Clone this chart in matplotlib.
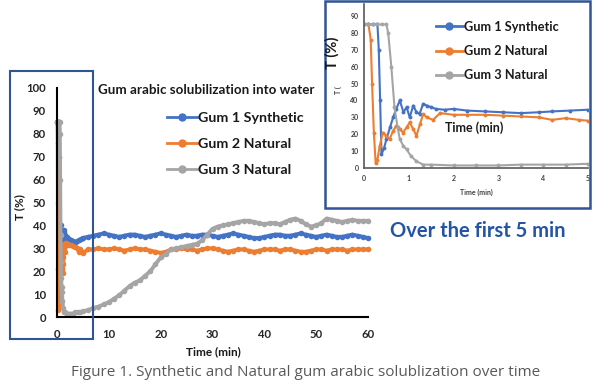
import matplotlib.pyplot as plt
from matplotlib.lines import Line2D
from matplotlib.patches import Rectangle

# ---- data ----
series_names = ["Gum 1 Synthetic", "Gum 2 Natural", "Gum 3 Natural"]
series_colors = ["#4472C4", "#ED7D31", "#A5A5A5"]

time_gum1 = [0, 0.1, 0.2, 0.3, 0.33, 0.36, 0.39, 0.45, 0.5, 0.58, 0.65, 0.72, 0.8, 0.88,
             0.95, 1.02, 1.1, 1.17, 1.24, 1.32, 1.4, 1.5, 1.6, 1.8, 2.0, 2.3, 2.7, 3.1,
             3.5, 3.9, 4.2, 4.6, 5.0] + list(range(6, 61))
T_gum1 = [85, 85, 85, 85, 70, 40, 8, 12, 17, 24, 30, 35, 40, 33, 36, 30, 37, 33, 32, 38,
          37, 36, 35, 34.5, 35, 34, 33.5, 33, 32.5, 33, 33.5, 34, 34.5,
          35, 35.5, 36, 36.5, 36, 35.5, 35, 35.5, 36, 36, 35.5, 35, 35.5, 36, 36.5,
          36, 35.5, 35, 35.5, 36, 35.5, 35.5, 36, 36, 35.5, 35, 35.5, 36, 36.5, 36,
          35.5, 35, 34.5, 34.5, 35, 35.5, 36, 36, 35.5, 35.5, 36, 36.5, 36, 35.5,
          35, 35.5, 36, 35.5, 35, 35, 35.5, 36, 35.5, 35, 34.5]

time_gum2 = [0, 0.1, 0.15, 0.18, 0.22, 0.26, 0.3, 0.35, 0.42, 0.5, 0.57, 0.65, 0.72,
             0.8, 0.87, 0.95, 1.02, 1.1, 1.17, 1.25, 1.32, 1.4, 1.54, 1.7, 2.0, 2.3,
             2.7, 3.1, 3.5, 3.9, 4.2, 4.5, 4.8, 5.0] + list(range(6, 61))
T_gum2 = [85, 85, 76, 50, 21, 3, 5, 13, 21, 19, 17, 22, 25, 23, 21, 24, 27, 23, 19, 26,
          32, 30, 28.5, 32.5, 31.5, 31.5, 31.5, 31, 30.5, 30, 28.5, 29.5, 28.5, 28,
          29.5, 29.5, 30, 29.5, 29.5, 30, 29.5, 29, 29.5, 30, 29.5, 29.5, 29, 28.5,
          28, 28.5, 29.5, 29.5, 30, 29.5, 29.5, 29, 29.5, 30, 30, 29.5, 29, 28.5,
          29, 29.5, 29.5, 29, 28.5, 29, 29.5, 29.5, 29.5, 29, 29.5, 29.5, 29, 28.5,
          28.5, 29, 29.5, 29.5, 29, 29.5, 29.5, 29.5, 29, 29.5, 29.5, 29.5, 29.5]

time_gum3 = [0, 0.1, 0.2, 0.3, 0.4, 0.5, 0.54, 0.61, 0.68, 0.75, 0.8, 0.88, 0.95, 1.05,
             1.17, 1.32, 1.5, 2.0, 2.5, 3.0, 3.5, 4.0, 4.5, 5.0] + list(range(6, 61))
T_gum3 = [85, 85, 85, 85, 85, 85, 80, 60, 36, 24, 17, 13, 11, 7, 4, 2, 2, 1.5, 1.5,
          1.5, 2, 2, 2, 2.5,
          3, 4, 4.5, 5.5, 6.5, 8, 9.5, 11.5, 13.5, 15, 16, 18, 20, 23, 26, 27.5, 29.5,
          30, 30.5, 31, 31.5, 32, 33.5, 36, 38.5, 39.5, 40, 40.5, 41, 41.5, 42, 42,
          41.5, 41, 40.5, 41, 41, 40.5, 41.5, 42.5, 43, 42, 40.5, 39.5, 40, 41, 43,
          42.5, 42, 41.5, 42, 42.5, 42, 42, 42]

main_xticks = [0, 10, 20, 30, 40, 50, 60]
main_yticks = [0, 10, 20, 30, 40, 50, 60, 70, 80, 90, 100]
inset_xticks = [0, 1, 2, 3, 4, 5]
inset_yticks = [0, 10, 20, 30, 40, 50, 60, 70, 80, 90]

W, H = 593, 384
frame_blue = "#2F5597"
FONT = ["Lato", "DejaVu Sans"]
INK = "#1a1a1a"


def fx(x):
    return x / W


def fy(y):
    return 1 - y / H


fig = plt.figure(figsize=(W / 100, H / 100), dpi=100)
fig.patch.set_facecolor("white")

times = [time_gum1, time_gum2, time_gum3]
values = [T_gum1, T_gum2, T_gum3]

# ---- main chart ----
ax = fig.add_axes([fx(57), fy(317), (368 - 57) / W, (317 - 88) / H])
for t, v, c in zip(times, values, series_colors):
    ax.plot(t, v, color=c, lw=2.8, marker="o", ms=4, mew=0, clip_on=False)
ax.set_xlim(0, 60)
ax.set_ylim(0, 100)
ax.set_xticks(main_xticks)
ax.set_yticks(main_yticks)
for s in ["top", "right"]:
    ax.spines[s].set_visible(False)
for s in ["left", "bottom"]:
    ax.spines[s].set_color("black")
    ax.spines[s].set_linewidth(1.5)
ax.tick_params(axis="y", length=0, pad=8, labelsize=8.2, labelcolor="#262626")
ax.tick_params(axis="x", length=0, pad=9, labelsize=8.2, labelcolor="#262626")
for lab in ax.get_xticklabels() + ax.get_yticklabels():
    lab.set_fontweight("bold")
    lab.set_family(FONT)
ax.set_facecolor("none")

fig.text(fx(98), fy(90), "Gum arabic solubilization into water", ha="left", va="center",
         fontsize=9.6, fontweight="bold", family=FONT, color=INK)
fig.text(fx(20), fy(207), "T (%)", rotation=90, ha="center", va="center",
         fontsize=8.5, fontweight="bold", family=FONT, color=INK)
fig.text(fx(213), fy(352), "Time (min)", ha="center", va="center",
         fontsize=8.5, fontweight="bold", family=FONT, color=INK)

handles = [Line2D([0], [0], color=c, lw=2, marker="o", ms=5) for c in series_colors]
leg = ax.legend(handles, series_names, loc="center left",
                bbox_to_anchor=(fx(167), fy(144)), bbox_transform=fig.transFigure,
                frameon=False, borderpad=0, borderaxespad=0,
                handlelength=2.1, handletextpad=0.1, labelspacing=0.95,
                prop={"family": FONT, "weight": "bold", "size": 10.3})
for txt in leg.get_texts():
    txt.set_color(INK)

# blue box around the first minutes
fig.add_artist(Rectangle((fx(10), fy(339)), (93 - 10) / W, (339 - 71) / H,
                         transform=fig.transFigure, fill=False, edgecolor=frame_blue,
                         lw=1.5, zorder=3))

# ---- inset: first 5 min ----
fig.add_artist(Rectangle((fx(325), fy(208)), (590 - 325) / W, 207 / H,
                         transform=fig.transFigure, facecolor="white",
                         edgecolor=frame_blue, lw=1.8, zorder=1))

ax2 = fig.add_axes([fx(364), fy(168), (588 - 364) / W, 97 * 1.689 / H], zorder=2)
for t, v, c in zip(times, values, series_colors):
    ax2.plot(t, v, color=c, lw=1.5, marker="o", ms=2.8, mew=0)
ax2.set_xlim(0, 5)
ax2.set_ylim(0, 97)
ax2.set_xticks(inset_xticks)
ax2.set_yticks(inset_yticks)
ax2.set_facecolor("none")
for s in ["top", "right"]:
    ax2.spines[s].set_visible(False)
for s in ["left", "bottom"]:
    ax2.spines[s].set_color("#595959")
    ax2.spines[s].set_linewidth(1.2)
ax2.tick_params(length=0, labelsize=5, labelcolor="#404040")
ax2.tick_params(axis="x", pad=5)
ax2.tick_params(axis="y", pad=4)
for lab in ax2.get_xticklabels() + ax2.get_yticklabels():
    lab.set_fontweight("bold")
    lab.set_family(FONT)

leg2 = ax2.legend(handles, series_names, loc="center left",
                  bbox_to_anchor=(fx(436), fy(51)), bbox_transform=fig.transFigure,
                  frameon=False, borderpad=0, borderaxespad=0,
                  handlelength=2.1, handletextpad=0.1, labelspacing=0.95,
                  prop={"family": FONT, "weight": "bold", "size": 9.2})
for txt in leg2.get_texts():
    txt.set_color(INK)

fig.text(fx(474), fy(128), "Time (min)", ha="center", va="center", fontsize=9,
         fontweight="bold", family=FONT, color=INK, zorder=4)
fig.text(fx(476), fy(192), "Time (min)", ha="center", va="center", fontsize=5,
         fontweight="bold", family=FONT, color="#404040", zorder=4)
fig.text(fx(332), fy(53), "T (%)", rotation=90, ha="center", va="center", fontsize=10.5,
         fontweight="bold", family=FONT, color=INK, zorder=4)
fig.text(fx(338), fy(90), "T (", rotation=90, ha="center", va="center", fontsize=5,
         fontweight="bold", family=FONT, color="#404040", zorder=4)

fig.text(fx(390), fy(231), "Over the first 5 min", ha="left", va="center", fontsize=14.5,
         fontweight="bold", family=FONT, color="#2455A4")

fig.text(fx(71), fy(372), "Figure 1. Synthetic and Natural gum arabic solublization over time",
         ha="left", va="center", fontsize=11, family=["Open Sans", "DejaVu Sans"],
         color="#595959")

fig.savefig("out.png", dpi=100)
